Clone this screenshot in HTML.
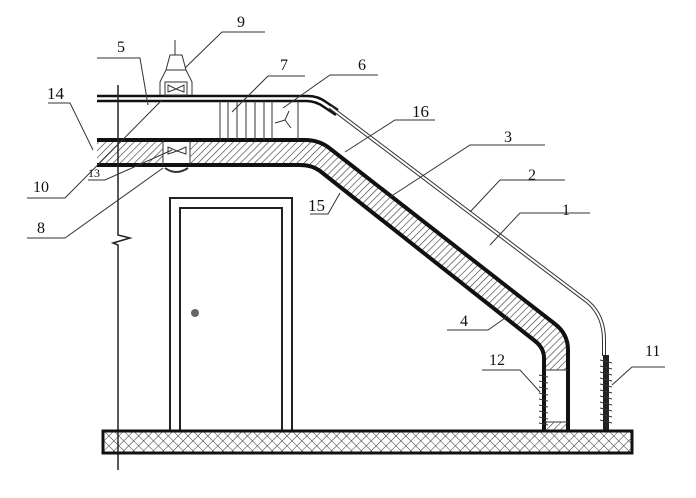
<!DOCTYPE html>
<html><head><style>body{margin:0;background:#fff}svg{display:block}text{font-family:"Liberation Serif",serif;font-size:16px;fill:#111}</style></head><body>
<svg width="696" height="498" viewBox="0 0 696 498" xmlns="http://www.w3.org/2000/svg">
<defs>
<pattern id="h" width="5" height="5" patternUnits="userSpaceOnUse" patternTransform="rotate(45)"><line x1="0" y1="0" x2="0" y2="5" stroke="#333" stroke-width="1.2"/></pattern>
<pattern id="x" width="7" height="7" patternUnits="userSpaceOnUse" patternTransform="rotate(45)"><path d="M0 0H7M0 0V7" stroke="#333" stroke-width="1" fill="none"/></pattern>
</defs>
<path d="M97 140 H305 Q318 140 328 147 L555 324 Q568 334 568 350 V370 H544 V358 Q544 348 535 341 L320 171 Q312 165 300 165 H97 Z" fill="url(#h)"/>
<rect x="163" y="140" width="27" height="25" fill="#fff"/>
<rect x="544" y="422" width="24" height="9" fill="url(#h)"/>
<path d="M97 140 H305 Q318 140 328 147 L555 324 Q568 334 568 350 V431" fill="none" stroke="#111" stroke-width="4"/>
<path d="M97 165 H300 Q312 165 320 171 L535 341 Q544 348 544 358 V431" fill="none" stroke="#111" stroke-width="4"/>
<line x1="544" y1="370" x2="568" y2="370" stroke="#333"/>
<line x1="544" y1="422" x2="568" y2="422" stroke="#333"/>
<path d="M163 140V165M190 140V165" stroke="#333"/>
<path d="M168 147l9 4 9-4v7l-9-3-9 3z" fill="none" stroke="#333"/>
<path d="M165 168 Q176 176 188 168" fill="none" stroke="#333" stroke-width="2"/>
<path d="M97 96 H308 Q318 96 326 102 L338 110" fill="none" stroke="#111" stroke-width="2.5"/>
<path d="M97 101 H306 Q316 101 324 107 L336 115" fill="none" stroke="#111" stroke-width="2.5"/>
<path d="M330 107 L588 302 Q604 316 604 340 V356" fill="none" stroke="#333" stroke-width="4"/>
<path d="M330 107 L588 302 Q604 316 604 340 V356" fill="none" stroke="#fff" stroke-width="2"/>
<rect x="603" y="355" width="6" height="76" fill="#222"/>
<path d="M600 360 l12 3 M600 366 l12 3 M600 372l12 3M600 378l12 3M600 384l12 3M600 390l12 3M600 396l12 3M600 402l12 3M600 408l12 3M600 414l12 3M600 420l12 3" stroke="#333"/>
<path d="M539 375 l9 2M539 381l9 2M539 387l9 2M539 393l9 2M539 399l9 2M539 405l9 2M539 411l9 2M539 417l9 2M539 423l9 2" stroke="#333"/>
<path d="M220 101V140M228 101V140M237 101V140M246 101V140M255 101V140M264 101V140M272 101V140M298 101V140" stroke="#333"/>
<g stroke="#333" fill="none"><path d="M285 120 l-10 3 M285 120 l4 -9 M285 120 l6 8"/></g>
<path d="M160 95V82l6-12h20l6 12v13M175 40V55M166 70l4-15h12l4 15" fill="none" stroke="#333"/>
<rect x="165" y="82" width="22" height="13" fill="none" stroke="#333"/>
<path d="M168 85l8 4 8-4v7l-8-3-8 3z" fill="none" stroke="#333"/>
<path d="M118 85V235l12 3-17 5 5 2V470" fill="none" stroke="#222" stroke-width="1.5"/>
<rect x="170" y="198" width="122" height="233" fill="none" stroke="#222" stroke-width="2"/>
<rect x="180" y="208" width="102" height="223" fill="none" stroke="#222" stroke-width="2"/>
<circle cx="195" cy="313" r="4" fill="#666"/>
<rect x="103" y="431" width="529" height="22" fill="url(#x)" stroke="#111" stroke-width="3"/>
<g stroke="#333" fill="none" stroke-width="1">
<path d="M265 32H222L185 68"/>
<path d="M97 58H140L148 105"/>
<path d="M305 76H268L232 112"/>
<path d="M378 75H330L283 108"/>
<path d="M48 103H70L93 150"/>
<path d="M435 120H395L345 152"/>
<path d="M545 145H470L390 197"/>
<path d="M565 180H500L470 212"/>
<path d="M590 213H520L490 245"/>
<path d="M310 214H328L340 193"/>
<path d="M27 198H65L162 100"/>
<path d="M88 180H105L172 150"/>
<path d="M27 238H65L163 168"/>
<path d="M447 330H488L508 316"/>
<path d="M482 370H520L540 392"/>
<path d="M665 367H632L612 385"/>
</g>
<text x="237" y="27">9</text><text x="117" y="52">5</text><text x="280" y="70">7</text><text x="358" y="70">6</text>
<text x="47" y="99" style="font-size:17px">14</text><text x="412" y="117" style="font-size:17px">16</text>
<text x="504" y="142">3</text><text x="528" y="180">2</text><text x="562" y="215">1</text>
<text x="308" y="211" style="font-size:17px">15</text><text x="33" y="192">10</text><text x="88" y="177" style="font-size:12px">13</text>
<text x="37" y="233">8</text><text x="460" y="326">4</text><text x="489" y="365">12</text><text x="645" y="356">11</text>
</svg>
</body></html>
